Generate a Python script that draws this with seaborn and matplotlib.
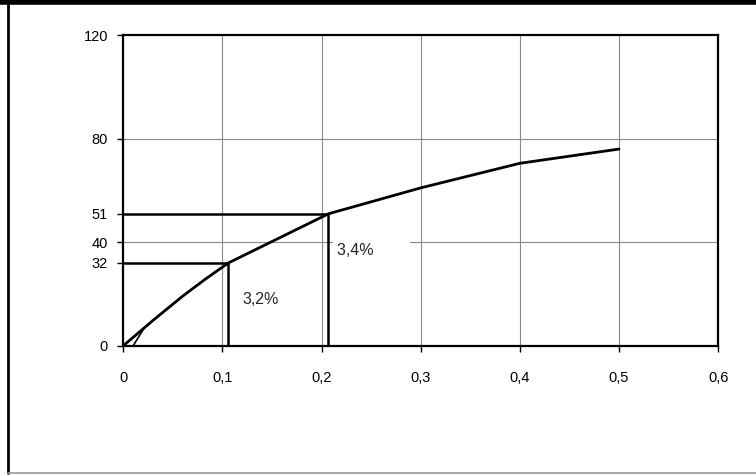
import matplotlib
matplotlib.use("Agg")
import matplotlib.pyplot as plt
from matplotlib.lines import Line2D
import seaborn as sns
import pandas as pd

# Curve readings
share = [0, 0.03, 0.06, 0.083, 0.106, 0.207, 0.3, 0.4, 0.5]
value = [0, 9.8, 19.2, 25.8, 32, 51, 61, 70.5, 76]

# short stroke at the foot of the curve
foot_x = [0.01, 0.021]
foot_y = [0, 6.8]

# Marked points on the curve and their annotations
marked_x = [0.106, 0.207]
marked_y = [32, 51]
marked_labels = ["3,2%", "3,4%"]

x_ticks = [0, 0.1, 0.2, 0.3, 0.4, 0.5, 0.6]
x_tick_labels = ["0", "0,1", "0,2", "0,3", "0,4", "0,5", "0,6"]
y_ticks = [0, 32, 40, 51, 80, 120]
y_grid = [40, 80]

sns.set_style("white")
plt.rcParams["font.family"] = ["Liberation Sans", "DejaVu Sans"]

fig = plt.figure(figsize=(7.56, 4.75), dpi=100)
ax = fig.add_axes([0.163, 0.272, 0.787, 0.654])

df = pd.DataFrame({"share": share, "value": value})
foot = pd.DataFrame({"share": foot_x, "value": foot_y})

# grid
for gx in x_ticks[1:-1]:
    ax.axvline(gx, color="#8a8a8a", lw=0.8, zorder=1)
for gy in y_grid:
    ax.axhline(gy, color="#8a8a8a", lw=0.8, zorder=1)

sns.lineplot(data=df, x="share", y="value", ax=ax, color="black", lw=2,
             sort=False, estimator=None, zorder=5)
sns.lineplot(data=foot, x="share", y="value", ax=ax, color="black", lw=1.2,
             sort=False, estimator=None, zorder=5)

# guide lines to the marked points
for mx, my in zip(marked_x, marked_y):
    ax.plot([0, mx], [my, my], color="black", lw=1.8, zorder=4)
    ax.plot([mx, mx], [0, my], color="black", lw=1.8, zorder=4)

ax.text(0.139, 17.7, marked_labels[0], fontsize=11.5, ha="center", va="center", zorder=6)
ax.text(0.216, 37, marked_labels[1] + "       ", fontsize=11.5, ha="left", va="center",
        zorder=3, bbox=dict(facecolor="white", edgecolor="none", pad=3.5))

ax.set_xlim(0, 0.6)
ax.set_ylim(0, 120)
ax.set_xticks(x_ticks)
ax.set_xticklabels(x_tick_labels)
ax.set_yticks(y_ticks)
ax.set_yticklabels([str(t) for t in y_ticks])
ax.set_xlabel("")
ax.set_ylabel("")
ax.tick_params(axis="x", length=4, width=1, pad=14, labelsize=10.5, colors="black", direction="out")
ax.tick_params(axis="y", length=4, width=1, pad=7, labelsize=10.5, colors="black", direction="out")
ax.tick_params(axis="x", bottom=True)
ax.tick_params(axis="y", left=True)

for side in ["left", "bottom", "top", "right"]:
    ax.spines[side].set_visible(True)
    ax.spines[side].set_color("black")
    ax.spines[side].set_linewidth(1.6)

# outer frame
W, H = 756, 475
fig.add_artist(Line2D([0, 1], [1 - 2 / H, 1 - 2 / H], color="black", lw=4, transform=fig.transFigure))
fig.add_artist(Line2D([8 / W, 8 / W], [2 / H, 1], color="black", lw=2, transform=fig.transFigure))
fig.add_artist(Line2D([8 / W, 1], [2 / H, 2 / H], color="#9a9a9a", lw=1.2, transform=fig.transFigure))

fig.savefig("out.png", dpi=100)
